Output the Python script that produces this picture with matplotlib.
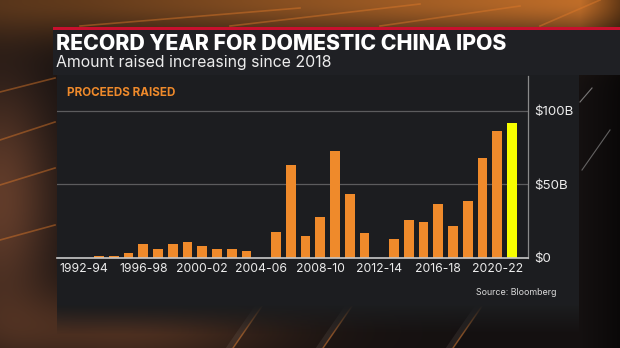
import numpy as np
import matplotlib.pyplot as plt
from matplotlib.patches import Rectangle

# annual proceeds raised by domestic China IPOs, $ billions
years = list(range(1994, 2023))
proceeds = [1.1, 1.1, 3.2, 9.3, 5.5, 9.1, 10.7, 7.7, 6.1, 5.5, 4.5, 0.0,
            17.3, 63.4, 14.7, 27.7, 72.5, 43.2, 16.6, 0.0, 12.7, 25.7, 24.3,
            36.4, 21.4, 38.2, 67.7, 86.2, 91.8]
period_labels = ["1992-94", "1996-98", "2000-02", "2004-06",
                 "2008-10", "2012-14", "2016-18", "2020-22"]
period_mid = [1993, 1997, 2001, 2005, 2009, 2013, 2017, 2021]
y_ticks = [0, 50, 100]
y_tick_labels = ["$0", "$50B", "$100B"]

W, H = 620, 348
ORANGE = "#ef8a2b"
YELLOW = "#f7ff00"
TEXT = "#ececec"

fig = plt.figure(figsize=(W / 100, H / 100), dpi=100)

# backdrop: dark studio wall with warm glow
bg = fig.add_axes([0, 0, 1, 1])
bg.axis("off")

yy, xx = np.mgrid[0:H, 0:W].astype(float)
img = np.zeros((H, W, 3))
img[:] = [0.08, 0.065, 0.065]
top = np.exp(-(yy / 38.0) ** 2) * (0.35 + 0.65 * xx / W)
img += top[..., None] * np.array([0.70, 0.38, 0.10])
left = np.exp(-(xx / 55.0) ** 2) * np.exp(-((yy - 200) / 120.0) ** 2)
img += left[..., None] * np.array([0.30, 0.17, 0.10])
low = np.exp(-((xx - 120) / 160.0) ** 2 - ((yy - 330) / 40.0) ** 2)
img += low[..., None] * np.array([0.22, 0.12, 0.06])
right = np.clip((xx - 580) / 40.0, 0, 1)
img *= (1 - 0.5 * right)[..., None]
bg.imshow(np.clip(img, 0, 1), extent=(0, W, H, 0), aspect="auto", zorder=0)

# light streaks in the backdrop
streaks = [((0, 92), (55, 78)), ((0, 140), (55, 122)), ((0, 185), (55, 168)),
           ((0, 240), (55, 225)), ((80, 26), (300, 8)), ((230, 26), (420, 4)),
           ((380, 26), (520, 6)), ((540, 26), (600, 0))]
for (x0, y0), (x1, y1) in streaks:
    bg.plot([x0, x1], [y0, y1], color="#e07a2a", lw=1.2, alpha=0.45, zorder=1)
for x0 in (230, 320, 450):
    bg.plot([x0, x0 + 40], [H, 290], color="#b0a090", lw=5, alpha=0.12, zorder=1)
    bg.plot([x0 + 3, x0 + 43], [H, 290], color="#e07a2a", lw=1, alpha=0.5, zorder=1)
bg.plot([582, 610], [170, 130], color="#9a9a9a", lw=0.8, alpha=0.6, zorder=1)
bg.plot([580, 592], [102, 88], color="#bdbdbd", lw=0.8, alpha=0.6, zorder=1)

# title card and chart card
bg.add_patch(Rectangle((53, 27), W - 53, 48, facecolor="#1f2024", zorder=2))
bg.add_patch(Rectangle((53, 27), W - 53, 3, facecolor="#c8102e", zorder=3))
bg.add_patch(Rectangle((57, 75), 522, 230, facecolor="#1c1d20", zorder=2))
fade = np.zeros((30, 2, 4))
fade[..., :3] = [0.11, 0.114, 0.125]
fade[..., 3] = np.linspace(1, 0, 30)[:, None]
bg.imshow(fade, extent=(57, 579, 335, 305), aspect="auto", zorder=2)
bg.set_xlim(0, W)
bg.set_ylim(H, 0)

bg.text(56, 50, "RECORD YEAR FOR DOMESTIC CHINA IPOS", color="white",
        fontsize=15.3, fontweight="heavy", family="Inter", zorder=4)
bg.text(56, 67, "Amount raised increasing since 2018", color=TEXT,
        fontsize=11.4, family="Inter", zorder=4)
bg.text(67, 96, "PROCEEDS RAISED", color=ORANGE, fontsize=8.4,
        fontweight="bold", family="Inter", zorder=4)
bg.text(557, 295, "Source: Bloomberg", color="#d8d8d8", fontsize=6.4,
        ha="right", family="Inter", zorder=4)

# bar chart
px_per_year = 14.75
x_left = years[0] - (99 - 57) / px_per_year
x_right = years[0] + (527.6 - 99) / px_per_year
ax = fig.add_axes([57 / W, 1 - 257.5 / H, (527.6 - 57) / W, (257.5 - 76) / H])
ax.set_facecolor("none")
colors = [ORANGE] * (len(years) - 1) + [YELLOW]
ax.bar(years, proceeds, width=0.65, color=colors, zorder=3)
ax.set_xlim(x_left, x_right)
ax.set_ylim(0, (257.5 - 76) / 1.466)

ax.yaxis.tick_right()
ax.set_yticks(y_ticks)
ax.set_yticklabels(y_tick_labels)
ax.set_xticks(period_mid)
ax.set_xticklabels(period_labels)
ax.tick_params(axis="both", length=0, colors=TEXT)
ax.tick_params(axis="y", labelsize=9.6, pad=5)
ax.tick_params(axis="x", labelsize=8.8, pad=4)
for lab in ax.get_xticklabels() + ax.get_yticklabels():
    lab.set_family("Inter")
ax.grid(axis="y", color="#5c5c5e", lw=0.9, zorder=1)
ax.set_axisbelow(True)
for side in ("top", "left"):
    ax.spines[side].set_visible(False)
ax.spines["bottom"].set_color("#c8c8c8")
ax.spines["bottom"].set_linewidth(1.2)
ax.spines["bottom"].set_zorder(4)
ax.spines["right"].set_color("#8a8a8a")
ax.spines["right"].set_linewidth(0.9)

fig.savefig("out.png", dpi=100)
